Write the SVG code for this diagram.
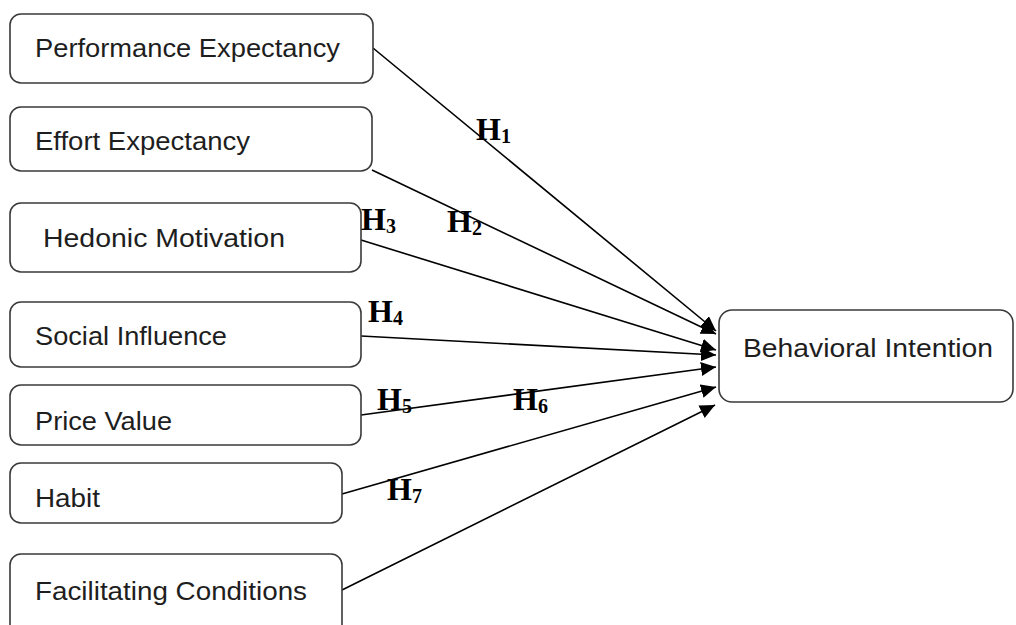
<svg xmlns="http://www.w3.org/2000/svg" width="1016" height="625" viewBox="0 0 1016 625">
<style>
.box{fill:#fff;stroke:#3a3a3a;stroke-width:1.6}
.lbl{font-family:"Liberation Sans",Arial,sans-serif;font-size:26px;fill:#1e1e1e}
.h{font-family:"Liberation Serif","Times New Roman",serif;font-weight:bold;font-size:32px;fill:#000}
.sub{font-size:20px}
.con{stroke:#000;stroke-width:1.6;fill:none;marker-end:url(#arr)}
</style>
<defs>
<marker id="arr" markerUnits="userSpaceOnUse" markerWidth="16" markerHeight="14" refX="15" refY="7" orient="auto">
<path d="M0,0 L15,7 L0,14 Z" fill="#000"/>
</marker>
</defs>
<rect width="1016" height="625" fill="#fff"/>
<g id="connectors">
<line class="con" x1="373" y1="48" x2="716" y2="331"/>
<line class="con" x1="372" y1="170" x2="716" y2="334"/>
<line class="con" x1="361" y1="240" x2="716" y2="350"/>
<line class="con" x1="361" y1="336" x2="716" y2="355"/>
<line class="con" x1="361" y1="415" x2="716" y2="367"/>
<line class="con" x1="342" y1="494" x2="716" y2="387"/>
<line class="con" x1="342" y1="590" x2="715" y2="405"/>
</g>
<g id="node-pe"><rect class="box" x="10" y="14" width="363" height="69" rx="11"/><text class="lbl" x="35" y="57" textLength="305" lengthAdjust="spacingAndGlyphs">Performance Expectancy</text></g>
<g id="node-ee"><rect class="box" x="10" y="107" width="362" height="64" rx="11"/><text class="lbl" x="35" y="150" textLength="215" lengthAdjust="spacingAndGlyphs">Effort Expectancy</text></g>
<g id="node-hm"><rect class="box" x="10" y="203" width="351" height="69" rx="11"/><text class="lbl" x="43" y="247" textLength="242" lengthAdjust="spacingAndGlyphs">Hedonic Motivation</text></g>
<g id="node-si"><rect class="box" x="10" y="302" width="351" height="65" rx="11"/><text class="lbl" x="35" y="345" textLength="192" lengthAdjust="spacingAndGlyphs">Social Influence</text></g>
<g id="node-pv"><rect class="box" x="10" y="385" width="351" height="60" rx="11"/><text class="lbl" x="35" y="430" textLength="137" lengthAdjust="spacingAndGlyphs">Price Value</text></g>
<g id="node-habit"><rect class="box" x="10" y="463" width="332" height="60" rx="11"/><text class="lbl" x="35" y="507" textLength="65" lengthAdjust="spacingAndGlyphs">Habit</text></g>
<g id="node-fc"><rect class="box" x="10" y="554" width="332" height="90" rx="11"/><text class="lbl" x="35" y="600" textLength="272" lengthAdjust="spacingAndGlyphs">Facilitating Conditions</text></g>
<g id="node-bi"><rect class="box" x="719" y="310" width="294" height="92" rx="13"/><text class="lbl" x="743" y="357" textLength="250" lengthAdjust="spacingAndGlyphs">Behavioral Intention</text></g>
<g id="hyp-labels">
<text class="h" x="476" y="140">H<tspan class="sub" dy="3">1</tspan></text>
<text class="h" x="447" y="232">H<tspan class="sub" dy="3">2</tspan></text>
<text class="h" x="361" y="230">H<tspan class="sub" dy="3">3</tspan></text>
<text class="h" x="368" y="322">H<tspan class="sub" dy="3">4</tspan></text>
<text class="h" x="377" y="410">H<tspan class="sub" dy="3">5</tspan></text>
<text class="h" x="513" y="410">H<tspan class="sub" dy="3">6</tspan></text>
<text class="h" x="387" y="500">H<tspan class="sub" dy="3">7</tspan></text>
</g>
</svg>
